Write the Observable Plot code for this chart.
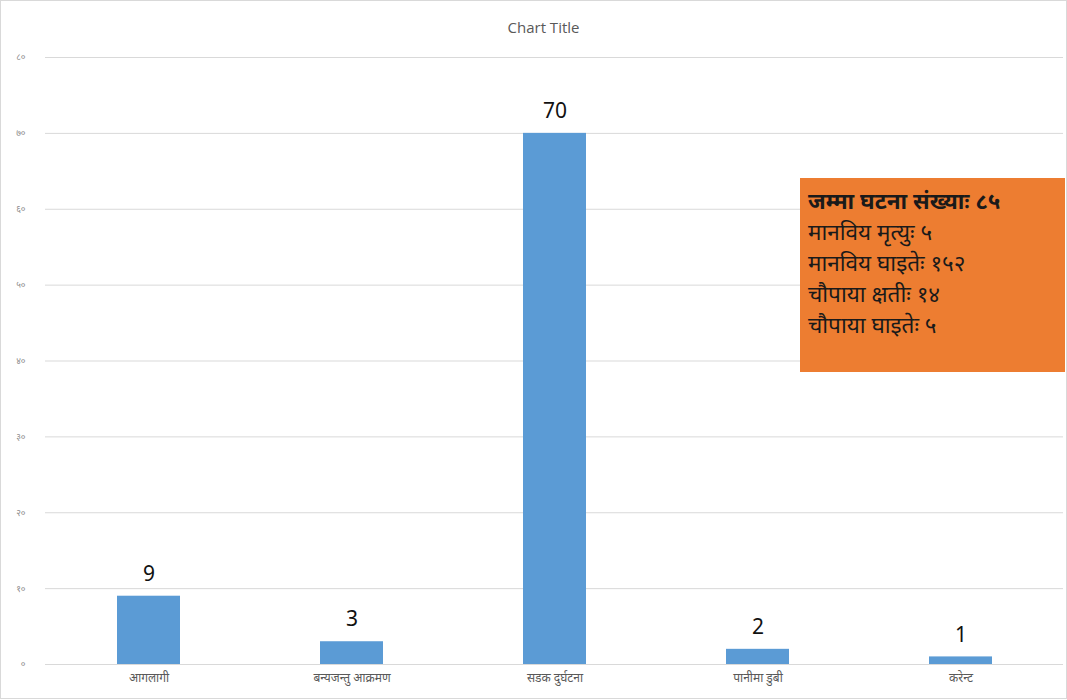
<!DOCTYPE html>
<html><head><meta charset="utf-8">
<script src="https://cdn.jsdelivr.net/npm/d3@7"></script>
<script src="https://cdn.jsdelivr.net/npm/@observablehq/plot@0.6"></script>
<style>
html,body{margin:0;padding:0;background:#fff;}
#wrap{position:relative;width:1067px;height:700px;overflow:hidden;font-family:"Noto Sans","DejaVu Sans",sans-serif;}
#title{position:absolute;top:17px;left:0;width:1087px;text-align:center;font-size:15px;color:#595959;font-family:"Open Sans","Noto Sans",sans-serif;}
#box{position:absolute;left:800px;top:178px;width:265px;height:194px;background:#ED7D31;box-sizing:border-box;padding:7px 0 0 8px;font-size:22.5px;line-height:31px;color:#1a1a1a;}
#box b{font-weight:bold;}
#frame{position:absolute;left:0;top:0;width:1065px;height:697px;border:1px solid #d9d9d9;pointer-events:none;}
</style></head>
<body><div id="wrap"><div id="chart"></div><div id="title">Chart Title</div>
<div id="box"></div><div id="frame"></div></div>
<script>
const categories = ["आगलागी","बन्यजन्तु आक्रमण","सडक दुर्घटना","पानीमा डुबी","करेन्ट"];
const values = [9,3,70,2,1];
const tickValues = [0,10,20,30,40,50,60,70,80];
const tickLabels = ["०","१०","२०","३०","४०","५०","६०","७०","८०"];
const boxLines = ["जम्मा घटना संख्याः ८५","मानविय मृत्युः ५","मानविय घाइतेः १५२","चौपाया क्षतीः १४","चौपाया घाइतेः ५"];

const data = categories.map((c,i)=>({category:c, value:values[i]}));
const chart = Plot.plot({
  width:1067, height:700,
  marginTop:57, marginBottom:36, marginLeft:45, marginRight:4,
  style:{fontFamily:"'Noto Sans','DejaVu Sans',sans-serif", background:"transparent"},
  x:{domain:categories, paddingInner:0.69, paddingOuter:0.345, label:null, tickSize:0, tickPadding:9},
  y:{domain:[0,80], ticks:tickValues, label:null, tickSize:0, tickPadding:20,
     tickFormat:d=>tickLabels[tickValues.indexOf(d)], grid:false},
  marks:[
    Plot.ruleY(tickValues,{stroke:"#d9d9d9", strokeWidth:1, strokeOpacity:1}),
    Plot.barY(data,{x:"category", y:"value", fill:"#5B9BD5"}),
    Plot.text(data,{x:"category", y:"value", text:d=>String(d.value), dy:-22, fontSize:21, fill:"#111"})
  ]
});
chart.querySelectorAll('[aria-label="x-axis tick label"] text').forEach(t=>{t.style.fontSize="12px";t.setAttribute("fill","#595959");});
chart.querySelectorAll('[aria-label="y-axis tick label"] text').forEach(t=>{t.style.fontSize="9px";t.setAttribute("fill","#8c8c8c");});
document.getElementById("chart").appendChild(chart);
const box = document.getElementById("box");
boxLines.forEach((l,i)=>{const d=document.createElement("div"); if(i===0){d.innerHTML="<b>"+l+"</b>";} else d.textContent=l; box.appendChild(d);});
</script></body></html>
